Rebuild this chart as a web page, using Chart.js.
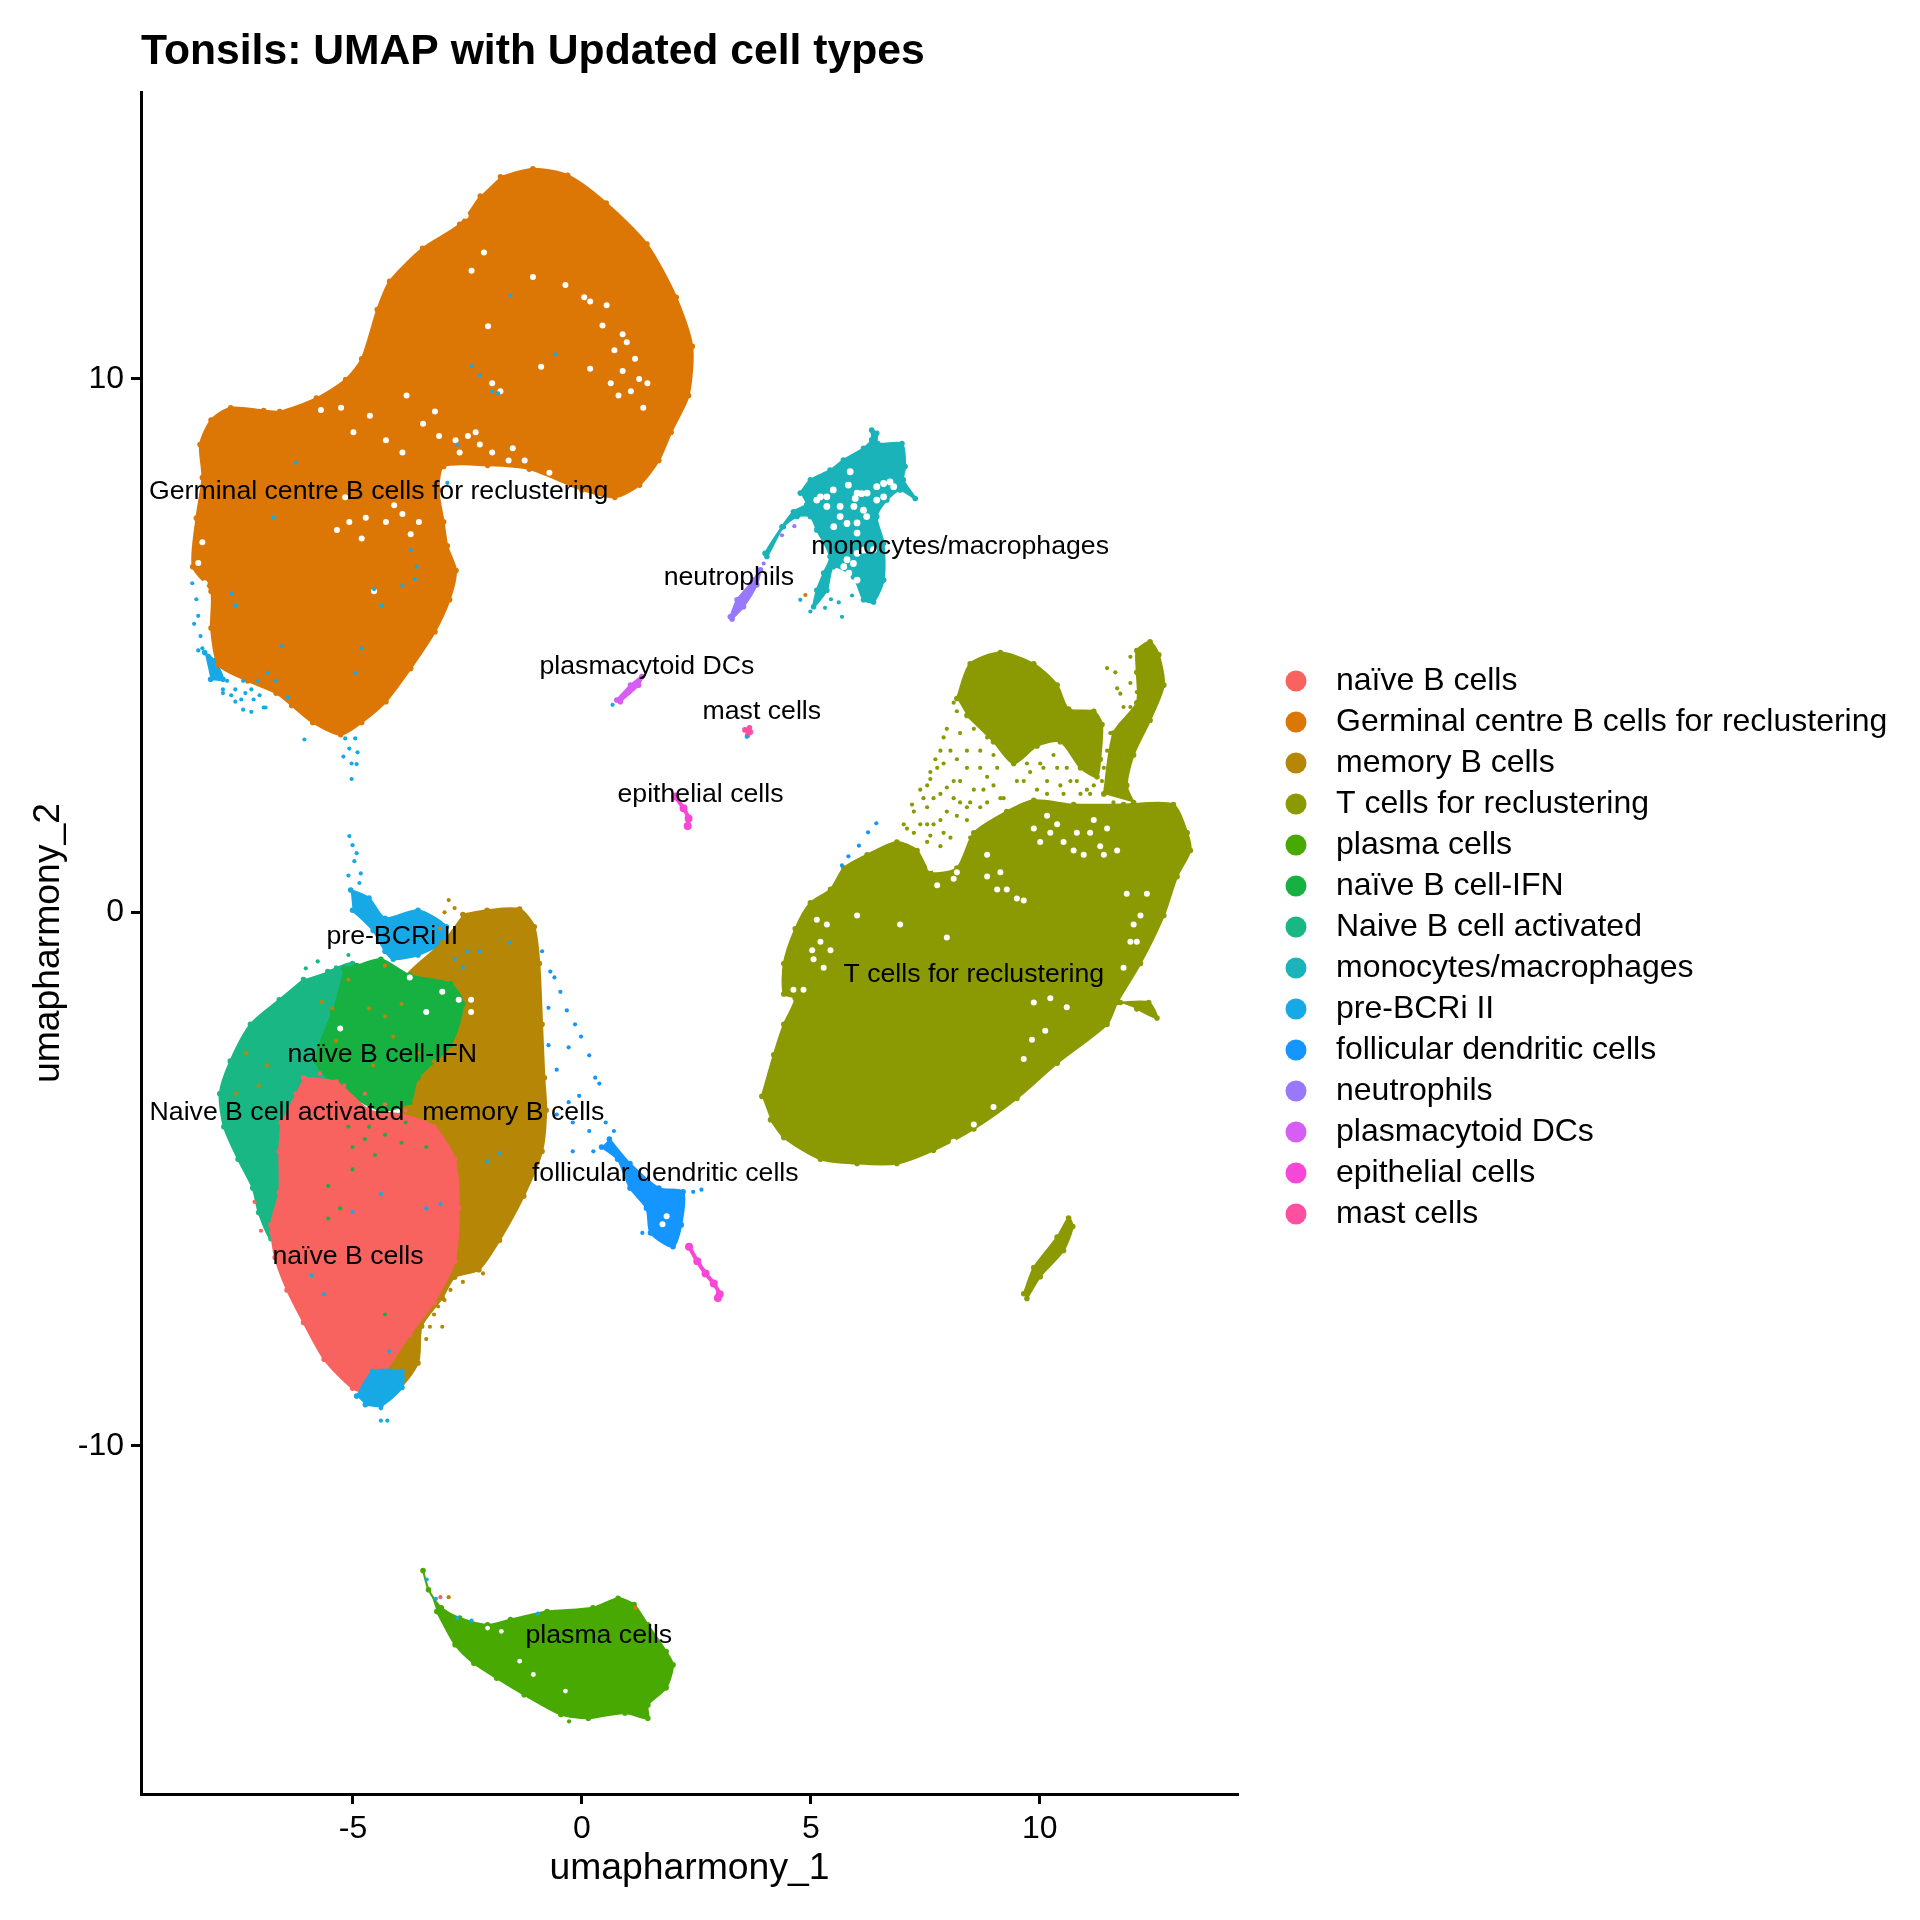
<!DOCTYPE html>
<html>
<head>
<meta charset="utf-8">
<title>Tonsils UMAP</title>
<script src="https://cdn.jsdelivr.net/npm/chart.js@4/dist/chart.umd.js"></script>
<style>
  html, body { margin: 0; padding: 0; background: #fff; }
  canvas { display: block; }
</style>
</head>
<body>
<canvas id="umap" width="1920" height="1920" style="width:1920px;height:1920px"></canvas>
<script>
// ------------------------------------------------------------
// Data: every number is read off the reference picture, in UMAP units.
// Dense clusters are outlines, sparse cells are single points.
// ------------------------------------------------------------
const xTicksStep = 5;
const yTicksStep = 10;
const xRange = [-9.63, 14.33];
const yRange = [-16.53, 15.38];

const cellTypes = [
  'naïve B cells', 'Germinal centre B cells for reclustering', 'memory B cells',
  'T cells for reclustering', 'plasma cells', 'naïve B cell-IFN', 'Naive B cell activated',
  'monocytes/macrophages', 'pre-BCRi II', 'follicular dendritic cells', 'neutrophils',
  'plasmacytoid DCs', 'epithelial cells', 'mast cells',
];
const cellColors = [
  '#F8625F', '#DC7706', '#B68607', '#8B9A02', '#47A902', '#17B141', '#19B784',
  '#19B3B9', '#17A9E6', '#1495FF', '#9778FF', '#D65EF4', '#F747D6', '#FF4FA0',
];

// cluster labels (centre of each text)
const labelX = [-5.11, -4.44, -1.50, 8.56, 0.37, -4.36, -6.66, 8.26, -4.14, 1.82, 3.21, 1.42, 2.59, 3.93];
const labelY = [-6.45, 7.88, -3.76, -1.17, -13.56, -2.66, -3.76, 6.85, -0.45, -4.89, 6.27, 4.60, 2.21, 3.77];

const naiveOutline = [[-6.08,-3.10],[-5.37,-3.18],[-4.65,-3.71],[-3.94,-3.79],[-3.23,-4.02],[-2.78,-4.63],[-2.69,-5.55],[-2.78,-6.54],[-3.23,-7.31],[-3.76,-7.92],[-4.30,-8.61],[-4.65,-8.99],[-5.01,-8.92],[-5.63,-8.38],[-6.08,-7.69],[-6.44,-7.08],[-6.70,-6.47],[-6.79,-5.86],[-6.61,-5.25],[-6.61,-4.48],[-6.57,-3.94]];
const germinalOutline = [[-1.78,13.79],[-1.07,13.94],[-0.31,13.82],[0.53,13.30],[1.42,12.53],[2.06,11.53],[2.41,10.61],[2.33,9.69],[1.95,9.00],[1.68,8.47],[1.26,8.01],[0.72,7.78],[0,7.92],[-1.15,8.31],[-2.06,8.38],[-3.02,8.36],[-3.13,7.92],[-3.02,7.32],[-2.94,6.87],[-2.75,6.41],[-2.89,5.86],[-3.21,5.26],[-3.74,4.57],[-4.28,3.95],[-4.81,3.56],[-5.27,3.33],[-5.88,3.56],[-6.34,3.88],[-6.68,4.11],[-7.30,4.34],[-7.94,4.64],[-8.10,5.33],[-8.10,6.02],[-8.50,6.48],[-8.42,7.39],[-8.29,8.15],[-8.34,8.77],[-8.10,9.23],[-7.67,9.46],[-6.95,9.41],[-6.60,9.39],[-5.80,9.64],[-5.16,9.99],[-4.81,10.38],[-4.47,11.30],[-4.20,11.83],[-3.48,12.45],[-2.67,12.90],[-2.22,13.43]];
const memoryOutline = [[-2.60,-0.04],[-2.07,0.04],[-1.36,0.06],[-1.04,-0.27],[-0.93,-0.96],[-0.87,-2.10],[-0.82,-3.10],[-0.78,-3.71],[-0.87,-4.48],[-1.27,-5.32],[-1.80,-6.15],[-2.25,-6.70],[-2.78,-6.84],[-3.05,-7.23],[-3.50,-7.76],[-3.58,-8.45],[-4.12,-8.99],[-4.50,-8.00],[-4.00,-5.00],[-3.90,-3.00],[-4.00,-1.40],[-3.05,-0.57]];
const tMainOutline = [[3.93,-3.45],[4.19,-2.67],[4.41,-2.10],[4.66,-1.61],[4.41,-1.53],[4.41,-0.96],[4.66,-0.31],[4.99,0.18],[5.43,0.43],[5.72,0.83],[6.23,1.08],[6.88,1.32],[7.32,1.16],[7.61,0.75],[8.19,0.83],[8.56,1.49],[9.28,1.89],[9.87,2.10],[10.74,2.02],[11.83,2.02],[12.92,2.02],[13.22,1.49],[13.29,1.16],[13.00,0.67],[12.71,-0.06],[12.20,-0.96],[11.69,-1.69],[11.47,-2.10],[10.38,-2.83],[9.50,-3.49],[8.56,-4.06],[7.68,-4.46],[6.88,-4.71],[6.01,-4.71],[5.21,-4.63],[4.41,-4.22],[4.12,-3.89]];
const tLobeOutline = [[8.19,4.01],[8.48,4.66],[9.14,4.87],[9.87,4.66],[10.38,4.26],[10.63,3.81],[11.18,3.77],[11.36,3.52],[11.32,2.87],[11.25,2.54],[10.89,2.71],[10.45,3.20],[9.94,3.12],[9.43,2.79],[8.99,3.20],[8.41,3.69]];
const tArmOutline = [[11.40,2.22],[11.61,3.36],[12.12,3.93],[12.12,4.50],[12.12,4.91],[12.41,5.07],[12.60,4.83],[12.71,4.26],[12.41,3.60],[12.05,2.95],[11.90,2.38],[12.05,2.06]];
const tSpurOutline = [[11.76,-1.69],[12.38,-1.69],[12.56,-1.98],[12.12,-1.81]];
const tIslandOutline = [[9.65,-7.15],[9.87,-6.66],[10.38,-6.09],[10.63,-5.73],[10.72,-5.89],[10.52,-6.34],[10.01,-6.83],[9.72,-7.24]];
const plasmaOutline = [[-3.47,-12.34],[-3.35,-12.70],[-3.07,-13.04],[-2.67,-13.23],[-2.06,-13.36],[-1.56,-13.26],[-0.76,-13.11],[0.24,-13.04],[0.79,-12.86],[1.14,-12.98],[1.44,-13.36],[1.84,-13.86],[1.99,-14.11],[1.84,-14.54],[1.44,-14.86],[1.44,-15.11],[0.94,-15.01],[0.14,-15.11],[-0.46,-15.04],[-1.26,-14.67],[-1.86,-14.36],[-2.36,-14.08],[-2.77,-13.73],[-3.17,-13.11]];
const ifnOutline = [[-5.20,-1.05],[-4.92,-1.00],[-4.39,-0.88],[-3.76,-1.18],[-2.87,-1.34],[-2.60,-1.72],[-2.87,-2.49],[-3.58,-3.10],[-3.76,-3.56],[-4.39,-3.71],[-5.37,-3.25],[-5.81,-2.79],[-5.45,-1.87]];
const activatedOutline = [[-6.08,-1.26],[-6.61,-1.64],[-7.24,-2.10],[-7.68,-2.79],[-7.91,-3.40],[-7.82,-4.02],[-7.51,-4.63],[-7.19,-5.17],[-7.06,-5.63],[-6.79,-6.12],[-6.44,-5.55],[-6.08,-4.02],[-5.37,-2.87],[-5.01,-1.56],[-5.01,-0.96],[-5.55,-1.11]];
const monocyteOutline = [[4.77,7.86],[4.99,8.11],[5.42,8.29],[5.71,8.48],[6.15,8.70],[6.33,8.86],[6.33,9.04],[6.44,8.98],[6.46,8.79],[6.99,8.79],[7.06,8.36],[7.02,8.11],[7.28,7.76],[6.95,7.92],[6.66,7.73],[6.44,7.42],[6.59,6.92],[6.59,6.23],[6.37,5.82],[6.15,5.86],[5.93,6.29],[5.49,6.48],[5.35,6.04],[5.06,5.73],[5.13,6.04],[5.28,6.36],[5.42,6.67],[5.13,7.17],[4.99,7.42],[4.70,7.42],[4.40,7.23],[4.04,6.67],[4.00,6.73],[4.37,7.23],[4.62,7.51],[4.91,7.64]];
const preBcrTopOutline = [[-5.05,0.42],[-4.65,0.27],[-4.30,-0.11],[-3.58,0.04],[-2.96,-0.27],[-3.05,-0.57],[-3.58,-0.80],[-4.12,-0.88],[-4.30,-0.73],[-4.56,-0.34],[-5.01,0.04]];
const preBcrLeftOutline = [[-8.24,4.87],[-8.02,4.72],[-7.84,4.37],[-8.11,4.37]];
const preBcrBottomOutline = [[-4.92,-9.07],[-4.57,-8.61],[-3.93,-8.61],[-3.93,-8.91],[-4.39,-9.25],[-4.73,-9.23]];
const follicularOutline = [[0.60,-4.25],[1.05,-4.71],[1.68,-5.17],[2.21,-5.24],[2.17,-5.86],[1.99,-6.27],[1.50,-6.01],[1.41,-5.55],[1.05,-5.17],[0.78,-4.63],[0.43,-4.40]];
const neutrophilOutline = [[3.24,5.54],[3.39,5.86],[3.75,6.23],[3.90,6.42],[3.82,6.14],[3.53,5.73],[3.28,5.50]];
const pdcOutline = [[0.76,3.98],[1.06,4.26],[1.31,4.42],[1.24,4.26],[0.84,3.95]];
const mastOutline = [[3.56,3.42],[3.66,3.46],[3.68,3.38],[3.62,3.32]];
const epithelialUpperTrace = [[2.04,2.17],[2.22,1.95],[2.33,1.76],[2.31,1.62]];
const epithelialLowerTrace = [[2.34,-6.27],[2.52,-6.54],[2.70,-6.77],[2.88,-6.96],[3.01,-7.16],[2.97,-7.23]];

// single cells seen outside or on top of the dense shapes
const preBcrCells = [[-3.65,6.25],[-3.61,6.48],[-3.74,6.79],[-3.92,6.13],[-4.54,6.06],[-4.37,5.75],[-4.81,4.95],[-4.95,4.49],[-6.55,4.99],[-7.57,5.75],[-7.66,5.98],[-6.73,7.40],[-6.24,8.43],[-2.94,8.05],[-1.96,9.77],[-1.83,9.73],[-2.41,10.24],[-2.23,10.07],[-2.72,8.77],[-1.56,11.57],[-0.58,10.46],[-8.51,6.17],[-8.42,5.87],[-8.38,5.56],[-8.47,5.41],[-8.33,5.18],[-8.29,4.95],[-8.38,4.91],[-8.15,4.81],[-7.84,4.11],[-7.57,3.95],[-6.95,3.84],[-7.22,3.76],[-7.75,4.34],[-7.57,4.18],[-7.40,4.34],[-7.22,4.18],[-7.04,4.07],[-6.86,4.49],[-7.44,3.99],[-7.08,4.34],[-7.66,4.07],[-7.84,4.18],[-7.35,4.11],[-7.17,3.99],[-6.91,3.84],[-7.40,3.80],[-6.68,4.34],[-6.42,4.03],[-5.17,3.26],[-4.95,3.26],[-5.08,3.07],[-4.90,3.00],[-5.21,2.92],[-5.03,2.79],[-6.06,3.24],[-5.03,2.50],[-4.92,2.78],[-5.08,1.43],[-5.01,1.26],[-4.92,1.11],[-4.97,0.96],[-4.83,0.73],[-5.10,0.69],[-4.86,0.55],[-5.90,-6.81],[-3.40,-5.55],[-3.09,-5.47],[-5.01,-5.62],[-4.39,-5.28],[-5.63,-7.16],[-4.21,-8.23],[-4.47,-8.61],[-1.80,-4.51],[-2.07,-4.67],[-2.51,-0.73],[-2.24,-0.73],[-1.58,-0.57],[-2.78,-0.88],[-2.60,-1.03],[-4.39,-9.53],[-4.25,-9.53],[-4.39,-9.30],[4.77,5.86],[4.99,5.64],[3.60,3.29],[0.67,3.89],[-3.39,-12.51],[-3.19,-12.87],[-2.41,-13.28],[-2.72,-13.23],[-0.96,-13.15]];
const follicularCells = [[-0.87,-0.73],[-0.69,-1.11],[-0.60,-1.22],[-0.47,-1.49],[-0.33,-1.84],[-0.15,-2.10],[-0.02,-2.33],[0.16,-2.68],[0.29,-3.10],[0.38,-3.21],[-0.73,-1.79],[-0.55,-2.95],[-0.29,-2.53],[-0.73,-2.49],[-0.29,-3.56],[-0.06,-3.44],[-0.55,-3.79],[-0.20,-3.94],[0.16,-4.10],[-0.20,-4.48],[0.25,-4.48],[0.52,-3.94],[0.70,-4.10],[2.43,-5.24],[2.61,-5.20],[1.32,-6.01],[6.43,1.67],[6.25,1.50],[6.05,1.25],[5.82,1.05],[5.68,0.88]];
const memoryCells = [[-2.60,-6.93],[-2.87,-7.08],[-3.00,-7.27],[-3.14,-7.39],[-3.23,-7.54],[-3.32,-7.77],[-3.05,-7.77],[-3.40,-8.00],[-3.58,-8.15],[-3.67,-8.46],[-2.34,-6.54],[-2.16,-6.77],[-2.91,0.23],[-2.78,0.08],[-3.00,0.00],[-7.33,-2.64],[-6.88,-2.87],[-7.06,-3.25],[-7.55,-3.40],[-5.68,-1.68],[-5.10,-1.26],[-5.45,-1.80],[-4.65,-1.80],[-4.30,-1.95],[-3.94,-1.72],[-4.12,-2.33],[-3.58,-2.64],[-3.23,-2.79],[-4.56,-2.87],[-5.37,-2.41],[-2.91,-12.84]];
const ifnCells = [[-5.01,-4.40],[-4.74,-4.25],[-5.54,-5.13],[-5.01,-4.82],[-5.54,-5.74],[-5.28,-5.55],[-4.30,-7.54],[-4.65,-4.02],[-4.30,-4.17],[-3.94,-4.32],[-3.40,-4.40],[-4.52,-4.55],[-5.10,-4.02],[-3.85,-3.94]];
const activatedCells = [[-6.03,-1.05],[-5.77,-0.92],[-5.10,-0.80],[-5.37,-1.03],[-7.41,-2.49],[-7.50,-2.72]];
const naiveCells = [[-5.72,-3.02],[-5.19,-3.25],[-4.74,-3.40],[-4.30,-3.60],[-3.85,-3.71],[-3.40,-3.94],[-6.26,-3.40],[-6.79,-6.01],[-7.01,-5.97],[-7.15,-5.43],[-3.09,-12.84]];
const germinalCells = [[4.88,5.95],[1.17,-13.04],[-3.10,-0.30],[-4.30,-1.00]];
const monocyteCells = [[5.68,5.54],[5.31,5.71],[5.44,5.87],[5.61,5.81],[5.90,5.94]];
const neutrophilCells = [[4.37,7.07],[4.64,7.24],[3.97,6.54]];
const tSparseCells = [[8.12,3.93],[7.97,3.44],[7.83,3.03],[7.61,2.63],[7.39,2.30],[7.21,2.02],[7.03,1.65],[7.54,2.38],[7.76,2.71],[8.05,3.03],[8.26,3.36],[8.56,3.44],[8.70,3.03],[8.41,2.71],[8.12,2.46],[7.83,2.22],[7.54,1.97],[7.39,1.65],[7.68,1.65],[7.97,1.89],[8.26,2.06],[8.56,2.30],[8.85,2.54],[9.07,2.71],[8.70,1.97],[8.41,1.73],[8.05,1.40],[7.83,1.24],[7.54,1.32],[7.25,1.49],[9.14,2.14],[9.72,2.79],[10.01,2.79],[10.30,2.95],[10.59,2.71],[10.81,2.46],[11.03,2.30],[10.45,2.38],[10.16,2.46],[9.94,2.30],[11.54,3.03],[11.76,3.52],[11.98,3.85],[11.47,4.58],[11.65,4.50],[11.98,4.79],[11.98,4.30],[11.69,4.20],[11.76,4.10],[8.19,3.77],[7.90,3.28],[7.72,2.87],[7.61,2.50],[7.90,2.79],[8.19,2.87],[8.41,3.03],[8.85,3.28],[8.99,2.95],[8.70,2.71],[8.26,2.46],[7.97,2.34],[7.68,2.14],[8.12,2.14],[8.48,2.06],[8.77,2.30],[8.99,2.38],[8.41,1.97],[8.19,1.81],[7.83,1.73],[7.54,1.65],[7.25,1.89],[7.46,2.14],[7.90,1.49],[7.61,1.44],[7.10,1.57],[8.48,1.40],[8.85,2.06],[9.21,2.14],[9.50,2.46],[9.65,2.46],[9.79,2.63],[10.08,2.71],[10.38,2.71],[10.67,2.46],[10.89,2.22],[11.18,2.38],[11.10,2.22],[10.52,2.22],[10.16,2.22],[11.54,3.36],[11.47,3.03],[11.61,2.71],[11.47,2.54],[11.69,3.12],[11.83,3.36],[11.40,2.71],[11.47,2.30],[11.36,2.46],[11.83,3.85],[12.12,4.13],[11.61,2.06],[11.76,2.22],[11.76,2.38]];
const plasmaCells = [[-3.47,-12.34],[-1.56,-13.26],[-0.76,-13.11],[-0.28,-15.17]];

// white holes inside the dense shapes, where the cells thin out
const germinalGaps = [[0.05,11.53],[0.18,11.45],[-0.36,11.76],[0.45,11.00],[0.98,10.69],[1.16,10.38],[0.89,10.15],[0.71,10.54],[1.07,9.77],[1.34,9.46],[1.43,9.92],[0.80,9.69],[-2.41,12.03],[-2.14,12.37],[-2.54,13.06],[-2.76,8.85],[-2.49,8.93],[-2.23,8.77],[-1.96,8.62],[-1.60,8.47],[-1.25,8.47],[-3.21,9.39],[-3.47,9.16],[-3.83,9.69],[-5.26,9.46],[-5.70,9.42],[-4.63,9.31],[-4.99,9.00],[-4.28,8.85],[-3.92,8.62],[-5.08,7.32],[-4.72,7.40],[-4.28,7.32],[-3.92,7.47],[-3.56,7.32],[-4.81,7.01],[-3.74,7.09],[-4.10,7.63],[-5.17,7.78],[-0.89,10.23],[0.18,10.19],[-1.78,9.77],[-1.96,9.92],[-0.71,8.24],[-2.05,10.99],[-1.07,11.91],[0.54,11.38],[0.89,10.84],[1.25,10.00],[0.63,9.92],[-3.12,8.93],[-2.67,8.62],[-2.32,9.00],[-1.51,8.70],[-5.35,7.17],[-4.54,6.02],[-8.29,6.94],[-8.38,6.55],[-8.24,6.17]];
const tGaps = [[10.38,1.65],[10.81,1.49],[11.10,1.49],[10.74,1.16],[10.96,1.08],[11.32,1.24],[10.16,1.81],[10.52,1.32],[11.47,1.57],[11.69,1.16],[9.50,0.26],[9.65,0.22],[9.14,0.75],[8.85,1.08],[9.07,0.43],[5.35,-0.23],[5.21,-0.55],[5.43,-0.71],[5.06,-0.88],[5.28,-1.04],[4.84,-1.45],[4.62,-1.45],[12.05,-0.23],[12.20,-0.06],[11.98,-0.55],[11.83,-1.04],[9.87,-1.69],[10.23,-1.61],[10.59,-1.78],[9.83,-2.39],[10.12,-2.22],[8.12,-4.30],[8.56,-3.98],[8.99,-3.65],[9.65,-2.75],[7.97,-0.47],[6.01,-0.06],[6.95,-0.23],[7.76,0.51],[9.87,1.57],[10.01,1.32],[10.23,1.49],[11.18,1.73],[11.40,1.08],[11.90,0.35],[12.34,0.35],[12.12,-0.55],[5.13,-0.14],[5.03,-0.71],[8.85,0.67],[9.28,0.43],[7.61,0.83],[7.90,0.83],[8.19,0.75],[8.12,0.63]];
const monocyteGaps = [[5.86,8.26],[5.97,7.76],[6.11,7.85],[5.82,8.01],[5.35,7.61],[5.21,7.79],[5.49,7.92],[6.01,7.30],[5.79,6.61],[5.93,6.54],[6.37,6.80],[6.59,7.79],[6.44,7.98],[6.73,8.07],[6.22,7.42],[5.64,7.42],[5.13,7.73],[5.35,7.79],[5.64,7.61],[6.01,7.86],[5.94,7.61],[6.15,7.54],[5.79,7.29],[5.50,7.23],[6.01,7.11],[6.23,7.86],[6.59,8.04],[6.81,7.98],[6.44,7.73],[5.72,6.48],[5.83,6.36],[5.57,6.29],[5.72,6.23],[6.01,6.23],[6.15,6.79],[6.01,6.73]];
const bCellGaps = [[-3.05,-1.49],[-2.69,-1.64],[-2.42,-1.87],[-3.76,-1.22],[-3.40,-1.87],[-5.28,-2.18],[-2.42,-1.64]];
const follicularGaps = [[1.85,-5.70],[1.76,-5.85]];
const plasmaGaps = [[-1.36,-14.04],[-0.36,-14.60],[-2.06,-13.42],[-1.76,-13.48],[-1.06,-14.29]];

// ------------------------------------------------------------
// Dataset helpers
// ------------------------------------------------------------
const toPoints = coords => coords.map(([x, y]) => ({ x, y }));

function shape(label, color, coords, order) {
  return {
    label, data: toPoints(coords), order,
    showLine: true, fill: 'shape', borderWidth: 2, tension: 0.25,
    backgroundColor: color, borderColor: color, pointBackgroundColor: color, pointBorderColor: color,
    pointRadius: 1.8, pointStyle: 'circle',
  };
}

function trace(label, color, coords, order) {
  return {
    label, data: toPoints(coords), order,
    showLine: true, fill: false, borderWidth: 4, tension: 0.25,
    backgroundColor: color, borderColor: color, pointBackgroundColor: color, pointBorderColor: color,
    pointRadius: 2, pointStyle: 'circle',
  };
}

function cells(label, color, coords, order, radius = 2.1) {
  return {
    label, data: toPoints(coords), order,
    showLine: false,
    backgroundColor: color, borderColor: color,
    pointRadius: radius, pointBorderWidth: 0, pointStyle: 'circle',
  };
}

const c = cellColors;
const t = cellTypes;
const datasets = [
  // first 14 are the legend entries, in legend order
  shape(t[0], c[0], naiveOutline, 12),
  shape(t[1], c[1], germinalOutline, 10),
  shape(t[2], c[2], memoryOutline, 14),
  shape(t[3], c[3], tMainOutline, 10),
  shape(t[4], c[4], plasmaOutline, 10),
  shape(t[5], c[5], ifnOutline, 13),
  shape(t[6], c[6], activatedOutline, 15),
  shape(t[7], c[7], monocyteOutline, 10),
  shape(t[8], c[8], preBcrTopOutline, 20),
  shape(t[9], c[9], follicularOutline, 10),
  shape(t[10], c[10], neutrophilOutline, 10),
  shape(t[11], c[11], pdcOutline, 10),
  trace(t[12], c[12], epithelialUpperTrace, 10),
  shape(t[13], c[13], mastOutline, 10),
  // the rest of each cluster
  shape('T lobe', c[3], tLobeOutline, 10),
  shape('T arm', c[3], tArmOutline, 10),
  shape('T spur', c[3], tSpurOutline, 10),
  shape('T island', c[3], tIslandOutline, 10),
  shape('pre-BCRi left', c[8], preBcrLeftOutline, 20),
  shape('pre-BCRi bottom', c[8], preBcrBottomOutline, 11),
  trace('epithelial lower', c[12], epithelialLowerTrace, 10),
  cells('T sparse', c[3], tSparseCells, 6),
  cells('plasma sparse', c[4], plasmaCells, 6),
  cells('monocyte sparse', c[7], monocyteCells, 6),
  cells('neutrophil sparse', c[10], neutrophilCells, 6),
  cells('gaps germinal', '#FFFFFF', germinalGaps, 5, 3),
  cells('gaps T', '#FFFFFF', tGaps, 5, 3),
  cells('gaps monocytes', '#FFFFFF', monocyteGaps, 5, 3.4),
  cells('gaps B', '#FFFFFF', bCellGaps, 5, 3),
  cells('gaps follicular', '#FFFFFF', follicularGaps, 5, 3),
  cells('gaps plasma', '#FFFFFF', plasmaGaps, 5, 2.4),
  cells('memory sparse', c[2], memoryCells, 3),
  cells('activated sparse', c[6], activatedCells, 3),
  cells('naive sparse', c[0], naiveCells, 3),
  cells('germinal sparse', c[1], germinalCells, 3),
  cells('IFN sparse', c[5], ifnCells, 2),
  cells('follicular sparse', c[9], follicularCells, 2),
  cells('pre-BCRi sparse', c[8], preBcrCells, 1),
];

// ------------------------------------------------------------
// Inline plugins
// ------------------------------------------------------------
// cluster names sit on the data, like Seurat's LabelClusters
const clusterLabels = {
  id: 'clusterLabels',
  afterDatasetsDraw(chart) {
    const { ctx, scales } = chart;
    ctx.save();
    ctx.fillStyle = '#000';
    ctx.font = '26.67px "Liberation Sans", Arial, sans-serif';
    ctx.textAlign = 'center';
    ctx.textBaseline = 'middle';
    cellTypes.forEach((name, i) => {
      ctx.fillText(name, scales.x.getPixelForValue(labelX[i]), scales.y.getPixelForValue(labelY[i]));
    });
    ctx.restore();
  },
};

// legend sits a little right of the plot, starting level with the picture
const placeLegend = {
  id: 'placeLegend',
  afterLayout(chart) {
    chart.legend.left = 1263;
    chart.legend.right = 1915;
    chart.legend.width = 652;
    chart.legend.top = 656;
  },
};

// round legend keys: pointStyleWidth alone would stretch 'circle' into an ellipse
function legendDot(color) {
  const dot = document.createElement('canvas');
  dot.width = 22;
  dot.height = 22;
  const g = dot.getContext('2d');
  g.fillStyle = color;
  g.beginPath();
  g.arc(11, 11, 10.5, 0, Math.PI * 2);
  g.fill();
  return dot;
}

Chart.defaults.font.family = '"Liberation Sans", Arial, sans-serif';
Chart.defaults.color = '#000';

new Chart(document.getElementById('umap'), {
  type: 'scatter',
  data: { datasets },
  plugins: [clusterLabels, placeLegend],
  options: {
    responsive: false,
    animation: false,
    devicePixelRatio: 1,
    layout: { autoPadding: false, padding: { right: 62 } },
    plugins: {
      tooltip: { enabled: false },
      title: {
        display: true,
        text: 'Tonsils: UMAP with Updated cell types',
        align: 'start',
        fullSize: false,
        color: '#000',
        font: { size: 42.67, weight: 'bold' },
        padding: { top: 26.4, bottom: 14.4 },
      },
      legend: {
        position: 'right',
        align: 'start',
        maxWidth: 620,
        labels: {
          usePointStyle: true,
          pointStyleWidth: 48,
          boxHeight: 15,
          padding: 9,
          color: '#000',
          font: { size: 32 },
          generateLabels(chart) {
            return Chart.defaults.plugins.legend.labels.generateLabels(chart)
              .map(item => ({ ...item, pointStyle: legendDot(item.fillStyle) }));
          },
          filter: (item) => item.datasetIndex < cellTypes.length,
          sort: (a, b) => a.datasetIndex - b.datasetIndex,
        },
      },
    },
    scales: {
      x: {
        type: 'linear',
        min: xRange[0],
        max: xRange[1],
        afterFit(scale) { scale.height = 126; },
        border: { display: true, color: '#000', width: 3 },
        grid: { display: true, drawOnChartArea: false, drawTicks: true, tickLength: 10, tickColor: '#000', tickWidth: 3 },
        ticks: { stepSize: xTicksStep, includeBounds: false, maxRotation: 0, padding: 6, color: '#000', font: { size: 32 } },
        title: { display: true, text: 'umapharmony_1', color: '#000', font: { size: 37.33 }, padding: { top: 0, bottom: 29 } },
      },
      y: {
        type: 'linear',
        min: yRange[0],
        max: yRange[1],
        afterFit(scale) { scale.width = 141; },
        border: { display: true, color: '#000', width: 3 },
        grid: { display: true, drawOnChartArea: false, drawTicks: true, tickLength: 10, tickColor: '#000', tickWidth: 3 },
        ticks: { stepSize: yTicksStep, includeBounds: false, padding: 7, color: '#000', font: { size: 32 } },
        title: { display: true, text: 'umapharmony_2', color: '#000', font: { size: 37.33 }, padding: { top: 26.5, bottom: 0 } },
      },
    },
  },
});
</script>
</body>
</html>
